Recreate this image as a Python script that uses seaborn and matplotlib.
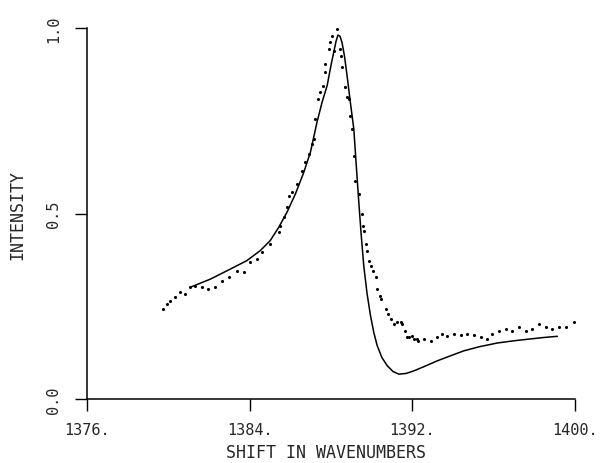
import numpy as np
import pandas as pd
import seaborn as sns
import matplotlib.pyplot as plt

# measured spectrum (dots)
shift_obs = [1379.76, 1379.92, 1380.08, 1380.33, 1380.58, 1380.82, 1381.07, 1381.32, 1381.65,
             1381.97, 1382.30, 1382.63, 1382.96, 1383.37, 1383.70, 1384.03, 1384.36, 1384.60,
             1385.02, 1385.43, 1385.50, 1385.67, 1385.83, 1385.92, 1386.08, 1386.33, 1386.57,
             1386.74, 1386.90, 1387.07, 1387.15, 1387.23, 1387.35, 1387.48, 1387.61, 1387.68,
             1387.72, 1387.89, 1387.97, 1388.05, 1388.13, 1388.30, 1388.43, 1388.50, 1388.54,
             1388.71, 1388.79, 1388.87, 1388.95, 1389.03, 1389.12, 1389.20, 1389.36, 1389.50,
             1389.58, 1389.64, 1389.72, 1389.78, 1389.89, 1389.97, 1390.05, 1390.19, 1390.27,
             1390.40, 1390.46, 1390.68, 1390.79, 1390.96, 1391.09, 1391.26, 1391.42, 1391.50,
             1391.66, 1391.75, 1391.83, 1392.00, 1392.08, 1392.24, 1392.30, 1392.57, 1392.90,
             1393.23, 1393.47, 1393.72, 1394.04, 1394.37, 1394.70, 1395.03, 1395.36, 1395.69,
             1395.90, 1396.26, 1396.59, 1396.92, 1397.25, 1397.57, 1397.90, 1398.23, 1398.56,
             1398.88, 1399.21, 1399.55, 1399.96]
intensity_obs = [0.243, 0.256, 0.265, 0.274, 0.288, 0.283, 0.301, 0.305, 0.301,
                 0.296, 0.301, 0.319, 0.328, 0.346, 0.341, 0.368, 0.377, 0.395,
                 0.418, 0.449, 0.467, 0.490, 0.517, 0.548, 0.557, 0.580, 0.615,
                 0.638, 0.660, 0.687, 0.700, 0.755, 0.809, 0.827, 0.845, 0.903,
                 0.881, 0.943, 0.961, 0.979, 0.939, 0.997, 0.943, 0.925, 0.894,
                 0.840, 0.813, 0.809, 0.764, 0.728, 0.656, 0.588, 0.553, 0.499,
                 0.467, 0.454, 0.418, 0.400, 0.373, 0.359, 0.346, 0.328, 0.296,
                 0.278, 0.270, 0.243, 0.229, 0.216, 0.202, 0.207, 0.207, 0.202,
                 0.184, 0.166, 0.166, 0.171, 0.162, 0.162, 0.157, 0.162, 0.157,
                 0.166, 0.175, 0.171, 0.175, 0.172, 0.175, 0.172, 0.166, 0.162,
                 0.175, 0.184, 0.189, 0.184, 0.193, 0.184, 0.189, 0.202, 0.193,
                 0.189, 0.193, 0.193, 0.207]

# fitted curve (solid line)
shift_fit = [1381.07, 1382.06, 1383.04, 1383.86, 1384.52, 1385.01, 1385.43, 1385.83, 1386.25,
             1386.66, 1386.99, 1387.31, 1387.56, 1387.81, 1388.00, 1388.13, 1388.25, 1388.34,
             1388.44, 1388.54, 1388.66, 1388.79, 1388.95, 1389.12, 1389.24, 1389.36, 1389.48,
             1389.61, 1389.77, 1389.94, 1390.10, 1390.27, 1390.50, 1390.76, 1391.05, 1391.34,
             1391.70, 1392.08, 1392.60, 1393.23, 1393.90, 1394.54, 1395.30, 1396.18, 1397.00,
             1397.82, 1398.50, 1399.13]
intensity_fit = [0.301, 0.323, 0.350, 0.373, 0.400, 0.427, 0.463, 0.503, 0.553,
                 0.611, 0.666, 0.746, 0.800, 0.845, 0.900, 0.934, 0.965, 0.981,
                 0.978, 0.961, 0.925, 0.871, 0.800, 0.728, 0.630, 0.535, 0.445,
                 0.359, 0.285, 0.225, 0.180, 0.144, 0.112, 0.090, 0.074, 0.067,
                 0.069, 0.076, 0.088, 0.103, 0.117, 0.130, 0.141, 0.151, 0.157,
                 0.162, 0.166, 0.169]

x_ticks = [1376, 1384, 1392, 1400]
x_ticklabels = ["1376.", "1384.", "1392.", "1400."]
y_ticks = [0.0, 0.5, 1.0]
y_ticklabels = ["0.0", "0.5", "1.0"]

obs = pd.DataFrame({"shift": shift_obs, "intensity": intensity_obs})
fit = pd.DataFrame({"shift": shift_fit, "intensity": intensity_fit})

sns.set_style("ticks")
plt.rcParams["font.family"] = ["DejaVu Sans Mono"]

fig = plt.figure(figsize=(6.01, 4.64), dpi=100)
ax = fig.add_axes([0.1448, 0.1379, 0.8120, 0.7996])

sns.lineplot(data=fit, x="shift", y="intensity", color="black", linewidth=1.1,
             sort=False, ax=ax)
sns.scatterplot(data=obs, x="shift", y="intensity", color="black", s=5,
                linewidth=0, ax=ax)

ax.set_xlim(1376, 1400)
ax.set_ylim(0, 1)
ax.set_xticks(x_ticks)
ax.set_xticklabels(x_ticklabels, fontsize=11)
ax.set_yticks(y_ticks)
ax.set_yticklabels(y_ticklabels, fontsize=11, rotation=90, va="center")
ax.tick_params(axis="both", direction="out", length=8.5, width=1, color="black")
ax.tick_params(axis="x", pad=8)
ax.tick_params(axis="y", pad=10)
sns.despine(ax=ax)
for s in ["left", "bottom"]:
    ax.spines[s].set_linewidth(1.1)
    ax.spines[s].set_color("black")

ax.set_xlabel("SHIFT IN WAVENUMBERS", fontsize=12)
ax.set_ylabel("INTENSITY", fontsize=12)
ax.xaxis.set_label_coords(0.49, -0.118)
ax.yaxis.set_label_coords(-0.125, 0.5)

fig.savefig("out.png", dpi=100)
